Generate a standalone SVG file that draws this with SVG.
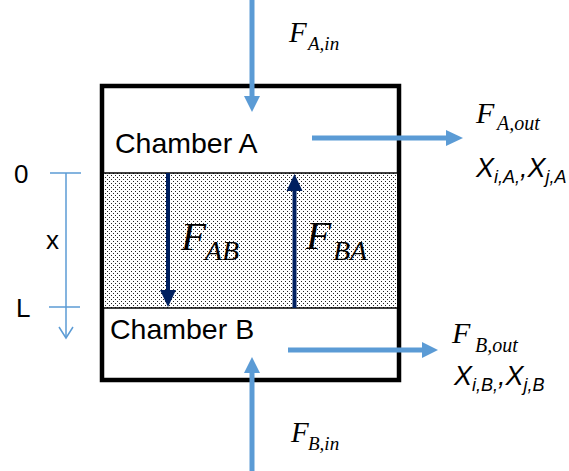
<svg xmlns="http://www.w3.org/2000/svg" width="569" height="471" viewBox="0 0 569 471">
  <style>
    .sans { font-family: "Liberation Sans", Arial, sans-serif; fill: #000; }
    .serif { font-family: "Liberation Serif", "Times New Roman", serif; font-style: italic; fill: #000; }
    .xi { font-family: "Liberation Sans", Arial, sans-serif; font-style: italic; fill: #000; }
    .flow { stroke: #5b9bd5; stroke-width: 5; fill: none; }
    .flux { stroke: #002060; stroke-width: 4; fill: none; }
    .axis { stroke: #5b9bd5; stroke-width: 1.5; fill: none; }
  </style>
  <defs>
    <pattern id="dots" x="0" y="0" width="4" height="4" patternUnits="userSpaceOnUse">
      <rect width="4" height="4" fill="#ffffff"/>
      <rect x="1" y="1" width="1" height="1" fill="#222"/>
      <rect x="3" y="3" width="1" height="1" fill="#222"/>
    </pattern>
  </defs>
  <rect width="569" height="471" fill="#ffffff"/>

  <g id="vessel">
    <rect x="102" y="86" width="297" height="294" fill="#ffffff" stroke="#000" stroke-width="4.5"/>
  </g>

  <g id="membrane">
    <rect x="104" y="173" width="293" height="135" fill="url(#dots)"/>
    <line x1="104" y1="173" x2="397" y2="173" stroke="#000" stroke-width="1.5"/>
    <line x1="104" y1="308" x2="397" y2="308" stroke="#000" stroke-width="1.5"/>
  </g>

  <g id="chamberA">
    <text class="sans" x="115" y="153" font-size="28.5">Chamber A</text>
  </g>
  <g id="chamberB">
    <text class="sans" x="110" y="339" font-size="28.5">Chamber B</text>
  </g>

  <g id="axis">
    <line class="axis" x1="66" y1="173" x2="66" y2="338"/>
    <line class="axis" x1="50" y1="173" x2="81" y2="173"/>
    <line class="axis" x1="49" y1="307" x2="80" y2="307"/>
    <polyline class="axis" points="59,327 66,338 73,327"/>
    <text class="sans" x="14" y="183" font-size="26">0</text>
    <text class="sans" x="46" y="249" font-size="26">x</text>
    <text class="sans" x="16" y="317" font-size="26">L</text>
  </g>

  <g id="connectors">
    <line class="flux" x1="168" y1="173" x2="168" y2="291"/>
    <polygon points="160,290 176,290 168,307" fill="#002060"/>
    <line class="flux" x1="294.5" y1="308" x2="294.5" y2="190"/>
    <polygon points="286.5,191 302.5,191 294.5,174" fill="#002060"/>
    <line class="flow" x1="252" y1="0" x2="252" y2="97"/>
    <polygon points="244,96 260,96 252,112" fill="#5b9bd5"/>
    <line class="flow" x1="312" y1="138" x2="447" y2="138"/>
    <polygon points="446,130 446,146 463,138" fill="#5b9bd5"/>
    <line class="flow" x1="288" y1="350" x2="423" y2="350"/>
    <polygon points="422,342 422,358 438,350" fill="#5b9bd5"/>
    <line class="flow" x1="252" y1="471" x2="252" y2="372"/>
    <polygon points="244,373 260,373 252,357" fill="#5b9bd5"/>
  </g>

  <g id="labelFAB">
    <text class="serif" x="181" y="250" font-size="41">F</text>
    <text class="serif" x="205" y="260" font-size="28">AB</text>
  </g>
  <g id="labelFBA">
    <text class="serif" x="306" y="249" font-size="41">F</text>
    <text class="serif" x="333" y="260" font-size="28">BA</text>
  </g>

  <g id="labelFAin">
    <text class="serif" x="289" y="42" font-size="29">F</text>
    <text class="serif" x="308" y="50" font-size="19">A,in</text>
  </g>
  <g id="labelFAout">
    <text class="serif" x="476" y="123" font-size="30">F</text>
    <text class="serif" x="497" y="130" font-size="20">A,out</text>
    <text class="xi" x="476" y="177" font-size="27">X<tspan font-size="18" dy="6">i,A,</tspan><tspan dy="-6">,X</tspan><tspan font-size="18" dy="6">j,A</tspan></text>
  </g>
  <g id="labelFBout">
    <text class="serif" x="452" y="343" font-size="30">F</text>
    <text class="serif" x="475" y="352" font-size="20">B,out</text>
    <text class="xi" x="454" y="385" font-size="27">X<tspan font-size="18" dy="6">i,B,</tspan><tspan dy="-6">,X</tspan><tspan font-size="18" dy="6">j,B</tspan></text>
  </g>
  <g id="labelFBin">
    <text class="serif" x="291" y="442" font-size="29">F</text>
    <text class="serif" x="308" y="450" font-size="19">B,in</text>
  </g>
</svg>
